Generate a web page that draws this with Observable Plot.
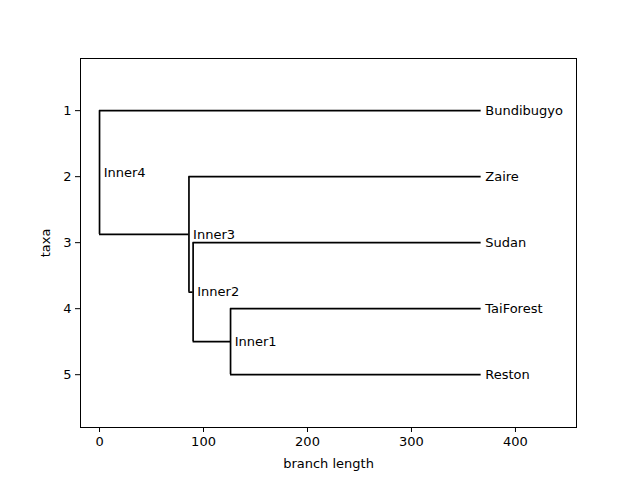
<!DOCTYPE html>
<html>
<head>
<meta charset="utf-8">
<script src="https://cdn.jsdelivr.net/npm/d3@7"></script>
<script src="https://cdn.jsdelivr.net/npm/@observablehq/plot@0.6"></script>
<style>
  body { margin: 0; background: #fff; }
  #chart { width: 640px; height: 480px; }
</style>
</head>
<body>
<div id="chart"></div>
<script>
// tree nodes: name, branch depth, row, parent
const names   = ["Inner4", "Bundibugyo", "Inner3", "Zaire", "Inner2", "Sudan", "Inner1", "TaiForest", "Reston"];
const depths  = [0, 367, 86, 367, 90, 367, 126, 367, 367];
const rows    = [1.9375, 1, 2.875, 2, 3.75, 3, 4.5, 4, 5];
const parents = [null, "Inner4", "Inner4", "Inner3", "Inner3", "Inner2", "Inner2", "Inner1", "Inner1"];

const nodes = names.map((name, i) => ({name, x: depths[i], y: rows[i], parent: parents[i]}));
const byName = new Map(nodes.map(d => [d.name, d]));

// horizontal branches from parent depth to node depth
const branches = nodes.filter(d => d.parent).map(d => ({x1: byName.get(d.parent).x, x2: d.x, y: d.y}));

// vertical connectors spanning children
const connectors = nodes.filter(d => d.name.startsWith("Inner")).map(d => {
  const kids = nodes.filter(k => k.parent === d.name).map(k => k.y);
  return {x: d.x, y1: d3.min(kids), y2: d3.max(kids)};
});

const chart = Plot.plot({
  width: 640,
  height: 480,
  marginLeft: 80,
  marginRight: 64,
  marginTop: 58,
  marginBottom: 53,
  style: {fontFamily: "DejaVu Sans", fontSize: "13px", color: "#000", background: "#fff"},
  x: {domain: [-18.3, 458.7], ticks: [0, 100, 200, 300, 400], tickSize: 5, label: "branch length", labelAnchor: "center", labelArrow: "none", labelOffset: 40},
  y: {domain: [0.21, 5.8], reverse: true, ticks: [1, 2, 3, 4, 5], tickFormat: d3.format("d"), tickSize: 5, label: "taxa", labelAnchor: "center", labelArrow: "none", labelOffset: 40},
  marks: [
    Plot.frame({stroke: "#000"}),
    Plot.ruleY(branches, {x1: "x1", x2: "x2", y: "y", stroke: "#000", strokeWidth: 1.7}),
    Plot.ruleX(connectors, {x: "x", y1: "y1", y2: "y2", stroke: "#000", strokeWidth: 1.7}),
    Plot.text(nodes, {x: "x", y: "y", text: d => " " + d.name, textAnchor: "start", fill: "#000", fontSize: 13})
  ]
});

d3.select("#chart").append(() => chart);
</script>
</body>
</html>
